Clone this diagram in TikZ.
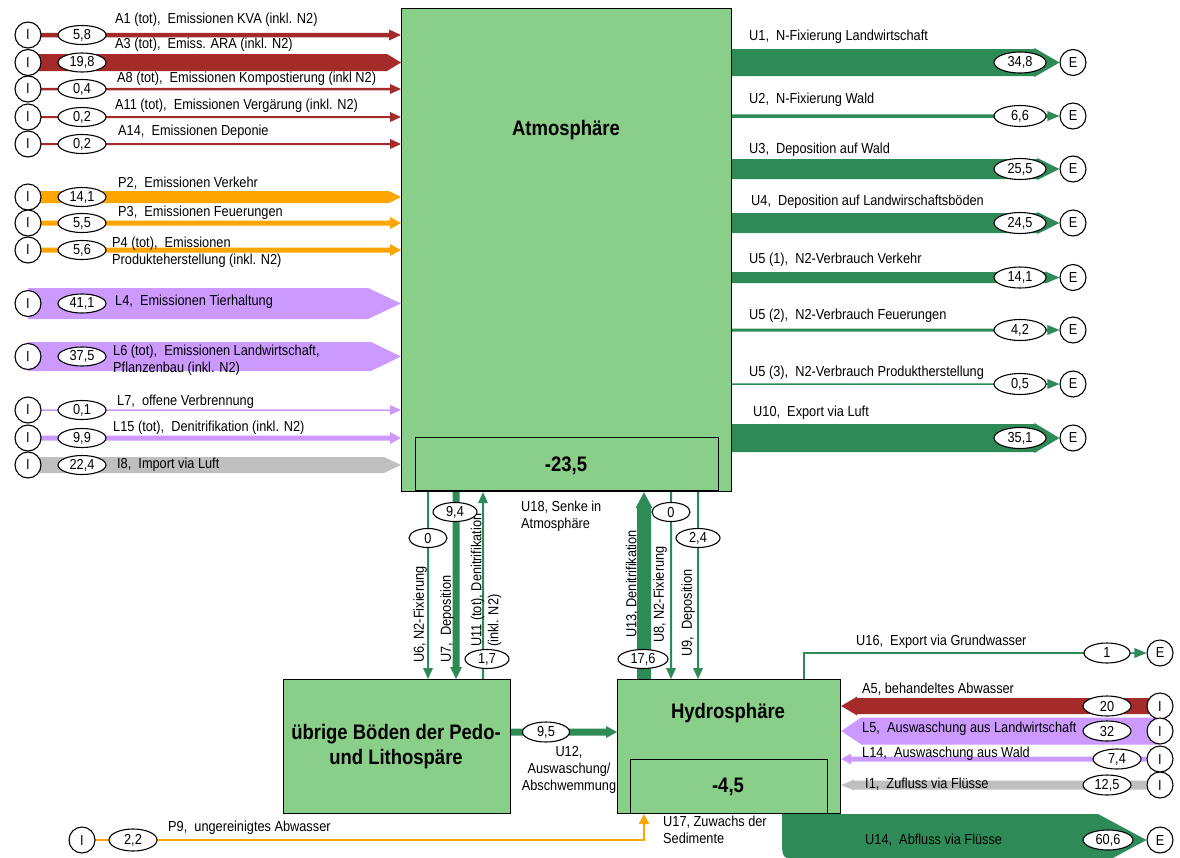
\documentclass[tikz,border=0pt]{standalone}
\usepackage{fontspec}
\setmainfont{Liberation Sans}[FakeStretch=0.88]
\usetikzlibrary{shapes.geometric,calc,arrows.meta}
\pgfdeclarelayer{bg}
\pgfsetlayers{bg,main}
\definecolor{boxg}{RGB}{137,206,137}
\definecolor{flowg}{RGB}{46,139,87}
\definecolor{flowr}{RGB}{165,42,42}
\definecolor{flowo}{RGB}{255,165,0}
\definecolor{flowp}{RGB}{204,153,255}
\definecolor{flowgr}{RGB}{191,191,191}
\newcommand\fs{\fontsize{14.5}{17}\selectfont}
\newcommand\fb{\fontsize{21}{25}\selectfont\bfseries}
% horizontal flow: start point, tip point (y of start), band width, head length, head width, colour
\newcommand\hflow[6]{%
  \fill[#6] let \p1=(#1),\p2=(#2),\n1={ifthenelse(\x2>\x1,1,-1)} in
   (\x1,{\y1+0.5*#3pt}) -- ({\x2-\n1*#4pt},{\y1+0.5*#3pt}) -- ({\x2-\n1*#4pt},{\y1+0.5*#5pt})
   -- (\x2,\y1) -- ({\x2-\n1*#4pt},{\y1-0.5*#5pt}) -- ({\x2-\n1*#4pt},{\y1-0.5*#3pt})
   -- (\x1,{\y1-0.5*#3pt}) -- cycle;}
% vertical flow: start point, tip point (x of start)
\newcommand\vflow[6]{%
  \fill[#6] let \p1=(#1),\p2=(#2),\n1={ifthenelse(\y2>\y1,1,-1)} in
   ({\x1+0.5*#3pt},\y1) -- ({\x1+0.5*#3pt},{\y2-\n1*#4pt}) -- ({\x1+0.5*#5pt},{\y2-\n1*#4pt})
   -- (\x1,\y2) -- ({\x1-0.5*#5pt},{\y2-\n1*#4pt}) -- ({\x1-0.5*#3pt},{\y2-\n1*#4pt})
   -- ({\x1-0.5*#3pt},\y1) -- cycle;}
\begin{document}
\begin{tikzpicture}[x=1pt,y=-1pt,
  ioc/.style={circle,draw,line width=1.1pt,fill=white,minimum size=26pt,inner sep=0pt,font=\fs},
  val/.style={ellipse,draw,line width=1.1pt,fill=white,minimum width=50pt,minimum height=20pt,inner sep=0pt,font=\fs},
  sval/.style={val,minimum width=44pt,minimum height=19pt},
  lbl/.style={anchor=west,inner sep=0pt,font=\fs},
  vlbl/.style={anchor=west,inner sep=0pt,font=\fs,rotate=90,align=left},
  box/.style={draw,line width=1.2pt,fill=boxg,inner sep=0pt},
  ibox/.style={draw,line width=1.2pt,inner sep=0pt},
  title/.style={font=\fb,inner sep=0pt,align=center}]
\useasboundingbox (0,0) rectangle (1180,857);

% ---------- boxes
\node[box,anchor=north west,minimum width=330pt,minimum height=483pt] (atm) at (401,8) {};
\node[ibox,anchor=north west,minimum width=303pt,minimum height=53pt] (atmin) at (415,437) {};
\node[title] (atmT) at (566,130) {Atmosphäre};
\node[title] (atmV) at (566,466) {-23,5};
\node[box,anchor=north west,minimum width=227pt,minimum height=134pt] (pedo) at (283,679) {};
\node[title] (pedoT) at (396,747) {übrige Böden der Pedo-\\und Lithospäre};
\node[box,anchor=north west,minimum width=223pt,minimum height=134pt] (hydro) at (617,679) {};
\node[ibox,anchor=north west,minimum width=197pt,minimum height=54pt] (hydin) at (630,759) {};
\node[title] (hydT) at (728,713) {Hydrosphäre};
\node[title] (hydV) at (728,787) {-4,5};

% ---------- left inputs
\foreach \n/\y/\v in {A1/35/{5,8},A3/62.5/{19,8},A8/89/{0,4},A11/117/{0,2},A14/144/{0,2},
  P2/197/{14,1},P3/223/{5,5},P4/250/{5,6},L4/303.5/{41,1},L6/356.5/{37,5},L7/410/{0,1},
  L15/438/{9,9},I8/465/{22,4}}{
  \node[ioc] (i\n) at (28,\y) {I};
  \node[val,minimum width=48pt,minimum height=19pt] (v\n) at (82,\y) {\v};
}
\node[lbl] (tA1) at (115,20) {A1 (tot),\ \ Emissionen KVA (inkl. N2)};
\node[lbl] (tA3) at (115,45) {A3 (tot),\ \ Emiss. ARA (inkl. N2)};
\node[lbl] (tA8) at (117,79) {A8 (tot),\ \ Emissionen Kompostierung (inkl N2)};
\node[lbl] (tA11) at (115,106) {A11 (tot),\ \ Emissionen Vergärung (inkl. N2)};
\node[lbl] (tA14) at (118,132) {A14,\ \ Emissionen Deponie};
\node[lbl] (tP2) at (118,183) {P2,\ \ Emissionen Verkehr};
\node[lbl] (tP3) at (118,213) {P3,\ \ Emissionen Feuerungen};
\node[lbl,align=left] (tP4) at (112,252.5) {P4 (tot),\ \ Emissionen\\Produkteherstellung (inkl. N2)};
\node[lbl] (tL4) at (115,302) {L4,\ \ Emissionen Tierhaltung};
\node[lbl,align=left] (tL6) at (113,360) {L6 (tot),\ \ Emissionen Landwirtschaft,\\Pflanzenbau (inkl. N2)};
\node[lbl] (tL7) at (117,402) {L7,\ \ offene Verbrennung};
\node[lbl] (tL15) at (113,428) {L15 (tot),\ \ Denitrifikation (inkl. N2)};
\node[lbl] (tI8) at (117,465) {I8,\ \ Import via Luft};

% ---------- right outputs of the atmosphere
\foreach \n/\y/\v in {U1/62.5/{34,8},U2/116/{6,6},U3/169/{25,5},U4/223/{24,5},
  U51/277.5/{14,1},U52/330/{4,2},U53/384/{0,5},U10/438/{35,1}}{
  \node[ioc] (e\n) at (1073,\y) {E};
  \node[val,minimum width=52pt,minimum height=21pt] (v\n) at (1020,\y) {\v};
}
\node[lbl] (tU1) at (749,37) {U1,\ \ N-Fixierung Landwirtschaft};
\node[lbl] (tU2) at (749,100) {U2,\ \ N-Fixierung Wald};
\node[lbl] (tU3) at (749,150) {U3,\ \ Deposition auf Wald};
\node[lbl] (tU4) at (751,202) {U4,\ \ Deposition auf Landwirschaftsböden};
\node[lbl] (tU51) at (749,260) {U5 (1),\ \ N2-Verbrauch Verkehr};
\node[lbl] (tU52) at (749,316) {U5 (2),\ \ N2-Verbrauch Feuerungen};
\node[lbl] (tU53) at (749,373) {U5 (3),\ \ N2-Verbrauch Produktherstellung};
\node[lbl] (tU10) at (753,413) {U10,\ \ Export via Luft};

% ---------- vertical flows
\coordinate (c6) at (428,0);
\coordinate (c7) at (456,0);
\coordinate (c11) at (483,0);
\coordinate (c13) at (644,0);
\coordinate (c8) at (671,0);
\coordinate (c9) at (698,0);
\coordinate (c12) at (0,732);
\coordinate (c16) at (804,653);
\node[vlbl] (tU6) at (420,663) {U6, N2-Fixierung};
\node[vlbl] (tU7) at (447,663) {U7,\ \ Deposition};
\node[vlbl] (tU11) at (486,647) {U11 (tot), Denitrifikation\\(inkl. N2)};
\node[vlbl] (tU13) at (632,638) {U13, Denitrifikation};
\node[vlbl] (tU8) at (660,643) {U8, N2-Fixierung};
\node[vlbl] (tU9) at (688,657) {U9,\ \ Deposition};
\node[sval,minimum width=38pt] (vU6) at (428,538) {0};
\node[sval] (vU7) at (455,512) {9,4};
\node[sval] (vU11) at (487,659) {1,7};
\node[sval,minimum width=50pt] (vU13) at (643,659) {17,6};
\node[sval,minimum width=38pt] (vU8) at (671,512) {0};
\node[sval] (vU9) at (698,538) {2,4};
\node[lbl,anchor=north west,align=left] (tU18) at (521,501) {U18, Senke in\\Atmosphäre};

% ---------- soil -> hydrosphere
\node[sval,minimum width=47pt,minimum height=20pt] (vU12) at (546,732) {9,5};
\node[lbl,anchor=north,align=center] (tU12) at (569,746) {U12,\\Auswaschung/\\Abschwemmung};

% ---------- hydrosphere outputs / inputs
\node[ioc] (eU16) at (1160,653) {E};
\node[val,minimum width=46pt] (vU16) at (1107,653) {1};
\node[lbl] (tU16) at (856,642) {U16,\ \ Export via Grundwasser};
\foreach \n/\y/\v/\x in {A5/706/{20}/1107,L5/731/{32}/1107,L14/759/{7,4}/1117,I1/785/{12,5}/1107}{
  \node[ioc] (i\n) at (1160,\y) {I};
  \node[val,minimum width=48pt] (v\n) at (\x,\y) {\v};
}
\node[lbl] (tA5) at (862,689) {A5, behandeltes Abwasser};
\node[lbl] (tL5) at (862,729) {L5,\ \ Auswaschung aus Landwirtschaft};
\node[lbl] (tL14) at (862,754) {L14,\ \ Auswaschung aus Wald};
\node[lbl] (tI1) at (865,784) {I1,\ \ Zufluss via Flüsse};
\node[ioc] (eU14) at (1160,840) {E};
\node[val,minimum width=50pt] (vU14) at (1108,840) {60,6};
\node[lbl] (tU14) at (865,840) {U14,\ \ Abfluss via Flüsse};
\node[ioc] (iP9) at (82,840) {I};
\node[val,minimum width=48pt,minimum height=22pt] (vP9) at (133,840) {2,2};
\node[lbl] (tP9) at (168,828) {P9,\ \ ungereinigtes Abwasser};
\node[lbl,anchor=north west,align=left] (tU17) at (663,816) {U17, Zuwachs der\\Sedimente};

% ---------- flows (behind)
\begin{pgfonlayer}{bg}
\hflow{iA1.center}{atm.west |- iA1.center}{4.5}{12}{11}{flowr}
\hflow{iA3.center}{atm.west |- iA3.center}{17}{14}{17}{flowr}
\hflow{iA8.center}{atm.west |- iA8.center}{2.5}{11}{10}{flowr}
\hflow{iA11.center}{atm.west |- iA11.center}{2}{11}{10}{flowr}
\hflow{iA14.center}{atm.west |- iA14.center}{2}{11}{10}{flowr}
\hflow{iP2.center}{atm.west |- iP2.center}{12}{12}{12}{flowo}
\hflow{iP3.center}{atm.west |- iP3.center}{5}{11}{12}{flowo}
\hflow{iP4.center}{atm.west |- iP4.center}{5}{11}{12}{flowo}
\hflow{iL4.center}{atm.west |- iL4.center}{31}{33}{31}{flowp}
\hflow{iL6.center}{atm.west |- iL6.center}{29}{30}{29}{flowp}
\hflow{iL7.center}{atm.west |- iL7.center}{1.5}{11}{10}{flowp}
\hflow{iL15.center}{atm.west |- iL15.center}{5}{11}{12}{flowp}
\hflow{iI8.center}{atm.west |- iI8.center}{16}{17}{16}{flowgr}
\hflow{atm.east |- eU1.center}{eU1.west}{27}{25}{29}{flowg}
\hflow{atm.east |- eU2.center}{eU2.west}{3.5}{12}{10}{flowg}
\hflow{atm.east |- eU3.center}{eU3.west}{20}{22}{22}{flowg}
\hflow{atm.east |- eU4.center}{eU4.west}{20}{22}{22}{flowg}
\hflow{atm.east |- eU51.center}{eU51.west}{11}{14}{12}{flowg}
\hflow{atm.east |- eU52.center}{eU52.west}{3}{12}{10}{flowg}
\hflow{atm.east |- eU53.center}{eU53.west}{1.5}{12}{10}{flowg}
\hflow{atm.east |- eU10.center}{eU10.west}{28}{25}{30}{flowg}
\vflow{c6 |- atm.south}{c6 |- pedo.north}{2}{11}{10}{flowg}
\vflow{c7 |- atm.south}{c7 |- pedo.north}{7}{12}{12}{flowg}
\vflow{c11 |- pedo.north}{c11 |- atm.south}{2}{11}{10}{flowg}
\vflow{c13 |- hydro.north}{c13 |- atm.south}{14}{16}{17}{flowg}
\vflow{c8 |- atm.south}{c8 |- hydro.north}{2}{11}{10}{flowg}
\vflow{c9 |- atm.south}{c9 |- hydro.north}{2}{11}{10}{flowg}
\hflow{pedo.east |- c12}{hydro.west |- c12}{7}{11}{12}{flowg}
\draw[flowg,line width=1.5pt] (c16 |- hydro.north) -- (c16) -- (vU16.center);
\hflow{vU16.center}{eU16.west}{1.5}{12}{10}{flowg}
\hflow{iA5.center}{hydro.east |- iA5.center}{16}{16}{19}{flowr}
\hflow{iL5.center}{hydro.east |- iL5.center}{27}{20}{27}{flowp}
\hflow{iL14.center}{hydro.east |- iL14.center}{5}{10}{11}{flowp}
\hflow{iI1.center}{hydro.east |- iI1.center}{9}{13}{11}{flowgr}
\fill[flowg] (782,814) -- (1098,814) -- (eU14.west) -- (1098,866) -- (1000,866) -- (1000,859) -- (802,859)
  .. controls (782,859) .. (782,839) -- cycle;
\draw[flowo,line width=1.5pt] (iP9.center) -| ($(c13 |- hydro.south)+(0,9)$);
\vflow{c13 |- vP9.center}{c13 |- hydro.south}{1.5}{10}{11}{flowo}
\end{pgfonlayer}
\end{tikzpicture}
\end{document}
